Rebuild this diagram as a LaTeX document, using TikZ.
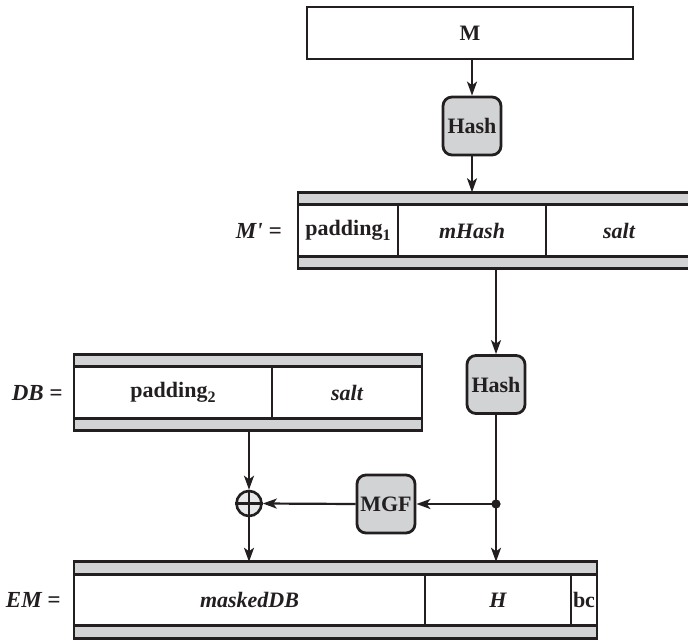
\documentclass[tikz,border=0pt]{standalone}
\usepackage{fontspec}
\setmainfont{Liberation Serif}
\usetikzlibrary{arrows.meta,positioning}
\definecolor{boxgray}{RGB}{210,211,213}
\definecolor{inkblack}{RGB}{35,31,32}
\newcommand{\sbs}[1]{\raisebox{-0.25em}{\fontsize{8}{9}\selectfont #1}}

\begin{document}
\begin{tikzpicture}[x=0.5pt, y=-0.5pt,
  every node/.style={font=\fontsize{11}{13}\selectfont\bfseries, text=inkblack},
  cell/.style={draw=inkblack, line width=1.3pt, outer sep=0pt, minimum height=25.75pt, inner sep=0pt},
  band/.style={draw=inkblack, fill=boxgray, line width=1.3pt, outer sep=0pt, minimum height=6.25pt, inner sep=0pt},
  fn/.style={draw=inkblack, fill=boxgray, line width=1.4pt, rounded corners=4.5pt, minimum width=29pt, minimum height=29pt, inner sep=0pt},
  arr/.style={draw=inkblack, line width=1.1pt, -{Stealth[length=7pt,width=5pt,inset=1.8pt]}},
  lbl/.style={anchor=east, inner sep=0pt, font=\fontsize{11.5}{13}\selectfont\bfseries\itshape}]
    \useasboundingbox (0,0) rectangle (688,641);

    % message and first hash
    \node[cell, minimum width=163pt, minimum height=26pt] (msg) at (470,33) {M};
    \node[fn] (hash1) at (472,126) {Hash};

    % M' = padding_1 | mHash | salt
    \node[cell, minimum width=50pt] (pad1) at (348,230.5) {padding\sbs{1}};
    \node[cell, minimum width=74pt, right=0pt of pad1] (mhash) {\itshape mHash};
    \node[cell, minimum width=73pt, right=0pt of mhash] (salt1) {\itshape salt};
    \node[band, minimum width=197pt, anchor=south west] (mptop) at (pad1.north west) {};
    \node[band, minimum width=197pt, anchor=north west] (mpbot) at (pad1.south west) {};
    \node[lbl] (mplbl) at (282,230.5) {M\textquotesingle\ =};

    % second hash
    \node[fn] (hash2) at (496,384.5) {Hash};

    % DB = padding_2 | salt
    \node[cell, minimum width=99pt] (pad2) at (173,392.5) {padding\sbs{2}};
    \node[cell, minimum width=75pt, right=0pt of pad2] (salt2) {\itshape salt};
    \node[band, minimum width=174pt, anchor=south west] (dbtop) at (pad2.north west) {};
    \node[band, minimum width=174pt, anchor=north west] (dbbot) at (pad2.south west) {};
    \node[lbl] (dblbl) at (63,392.5) {DB =};

    % mask generation and xor
    \node[fn] (mgf) at (386,504) {MGF};
    \node[circle, draw=inkblack, fill=boxgray!50, line width=1.3pt, minimum size=12.5pt, inner sep=0pt] (xor) at (249,503.5) {};
    \draw[inkblack, line width=1.1pt] (xor.north) -- (xor.south) (xor.west) -- (xor.east);
    \coordinate (split) at (496,504);
    \fill[inkblack] (split) circle (2.3pt);

    % EM = maskedDB | H | bc
    \node[cell, minimum width=175.5pt] (masked) at (249.5,600) {\itshape maskedDB};
    \node[cell, minimum width=73pt, right=0pt of masked] (hcell) {\itshape H};
    \node[cell, minimum width=13pt, right=0pt of hcell] (bc) {bc};
    \node[band, minimum width=261.5pt, anchor=south west] (emtop) at (masked.north west) {};
    \node[band, minimum width=261.5pt, anchor=north west] (embot) at (masked.south west) {};
    \node[lbl] (emlbl) at (61,600) {EM =};

    % connectors
    \draw[arr] (msg.south -| hash1) -- (hash1.north);
    \draw[arr] (hash1.south) -- (hash1.south |- mptop.north);
    \draw[arr] (mpbot.south -| hash2) -- (hash2.north);
    \draw[arr] (hash2.south) -- (hash2.south |- emtop.north);
    \draw[arr] (split) -- (mgf.east);
    \draw[arr] (mgf.west) -- (xor.east);
    \draw[arr] (dbbot.south -| xor) -- (xor.north);
    \draw[arr] (xor.south) -- (xor.south |- emtop.north);
\end{tikzpicture}
\end{document}
